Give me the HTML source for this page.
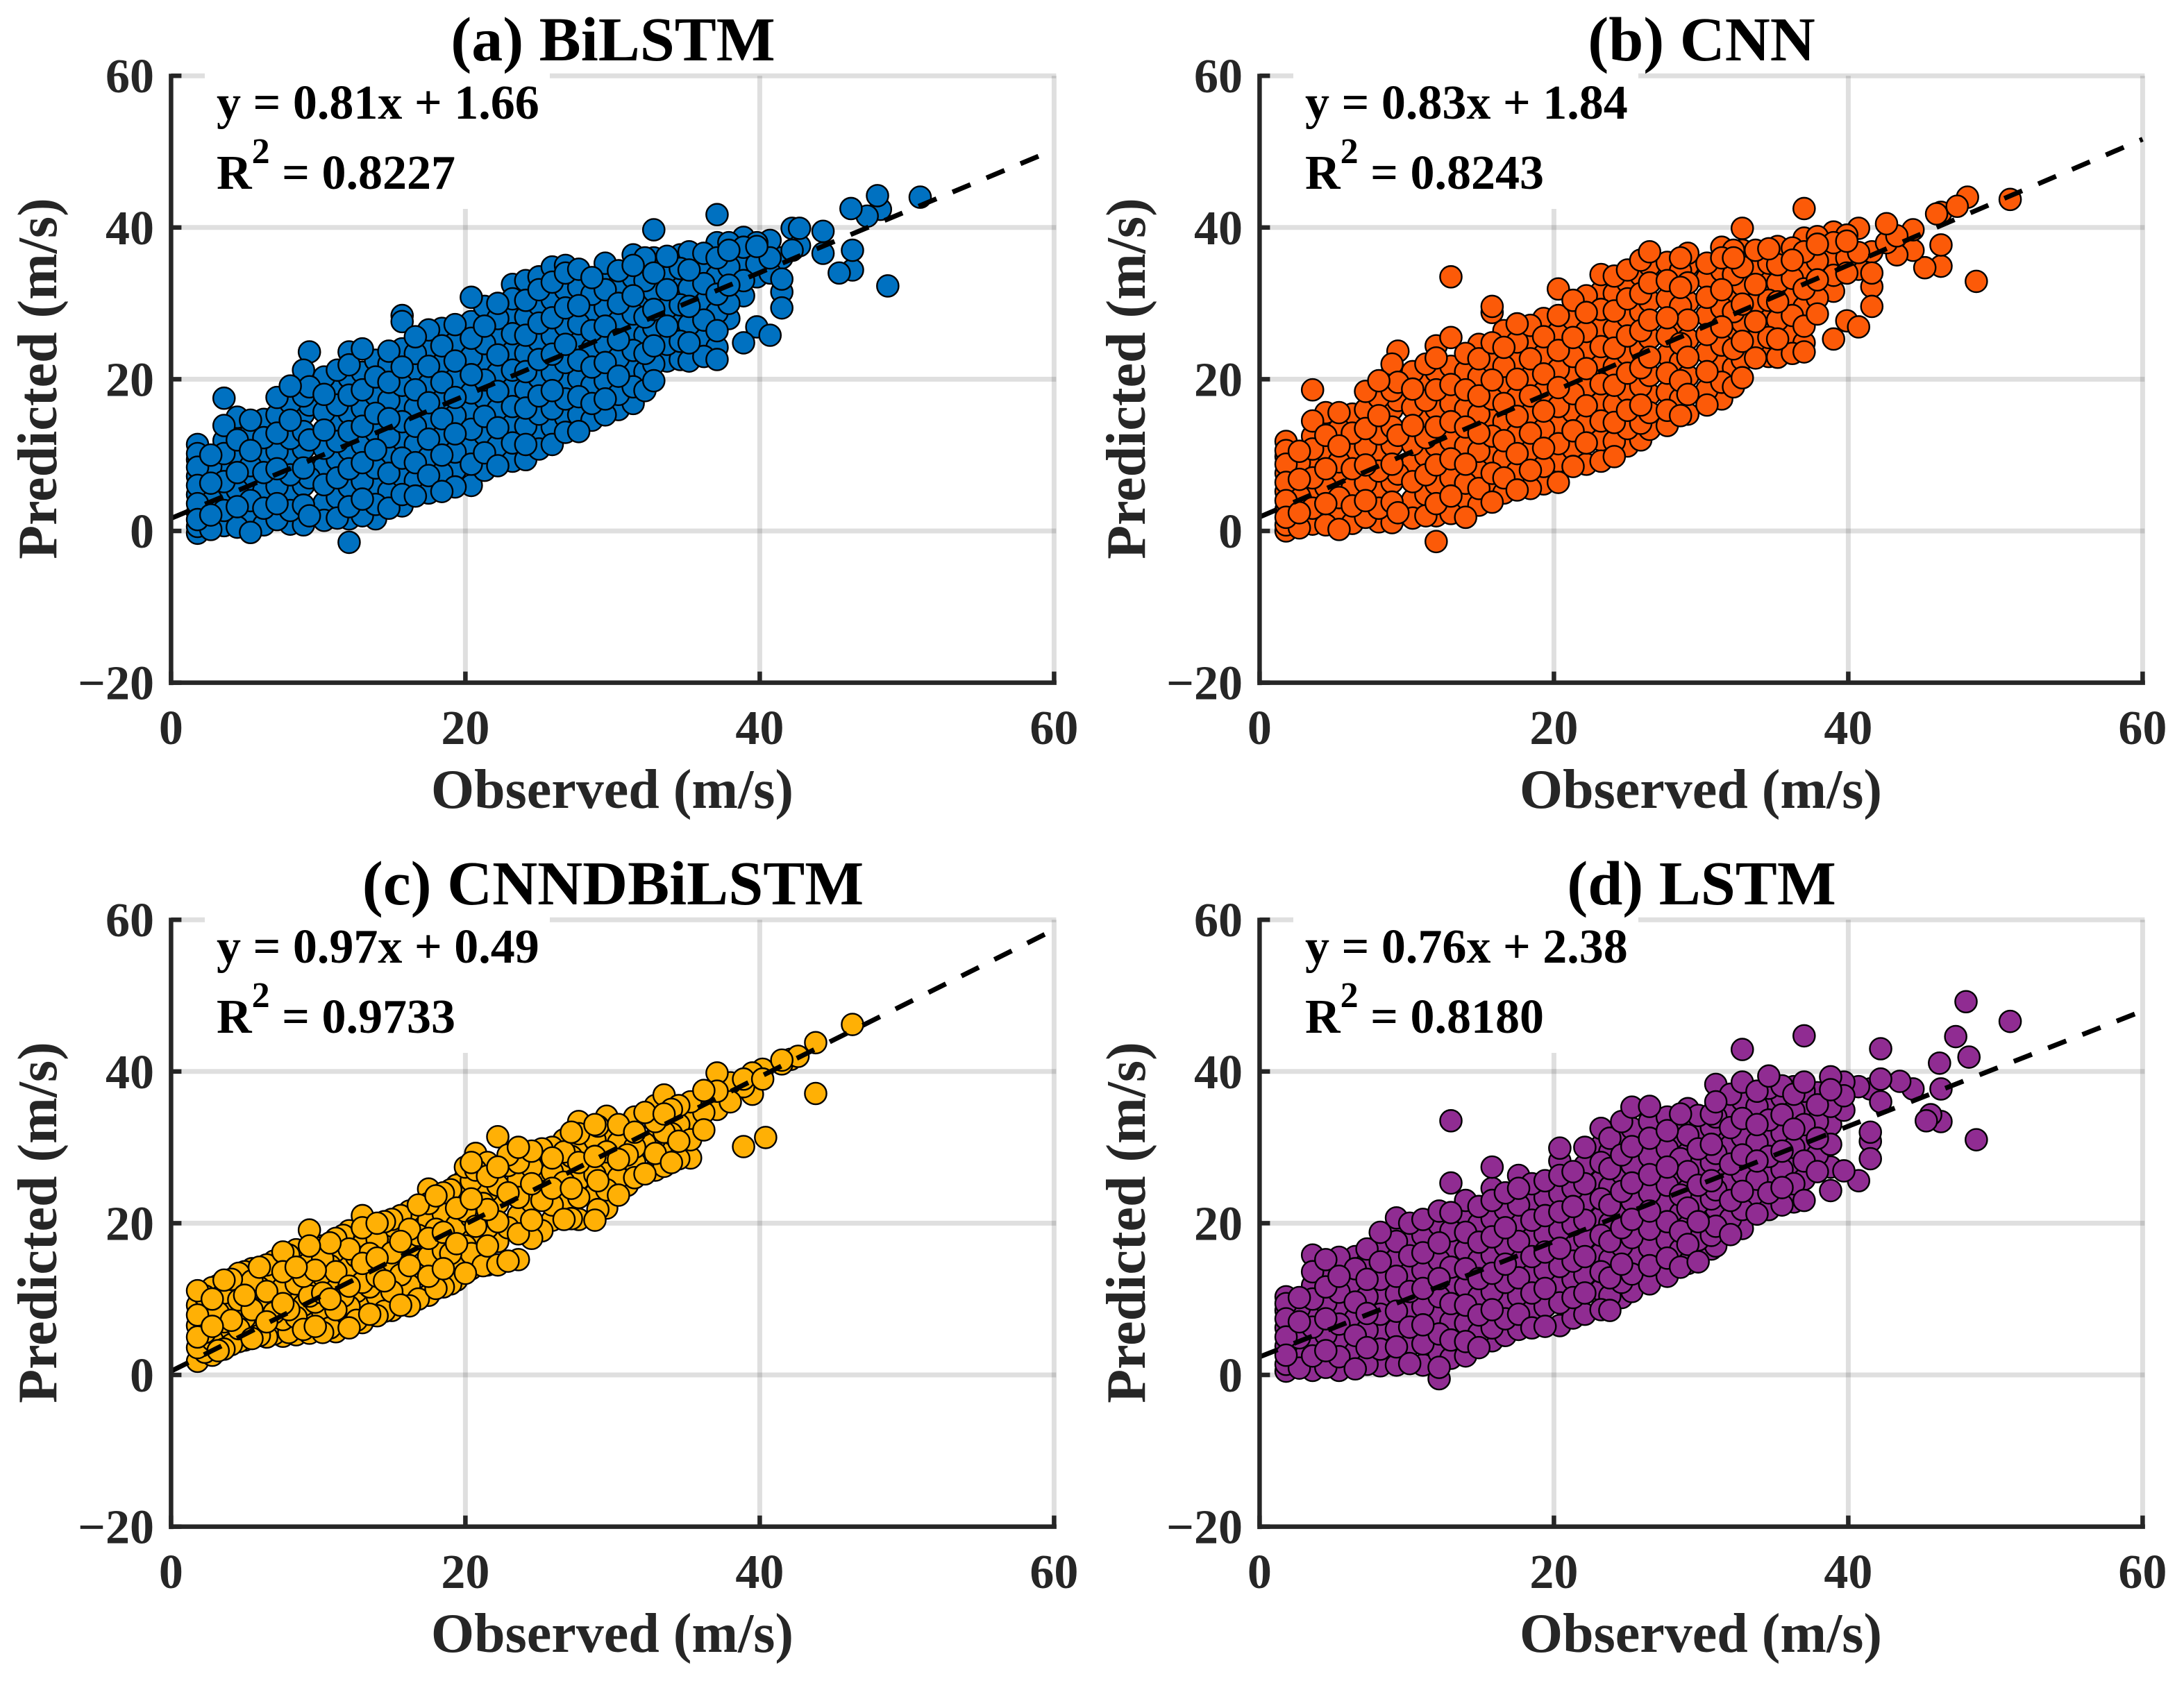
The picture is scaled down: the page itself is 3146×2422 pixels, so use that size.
<!DOCTYPE html>
<html lang="en">
<head>
<meta charset="utf-8">
<title>Observed vs predicted wind speed</title>
<style>
html,body{margin:0;padding:0;background:#fff}
svg{display:block}
text{font-family:"Liberation Serif",serif;font-weight:bold}
.title{font-size:90px;fill:#000;text-anchor:middle}
.axis-title{font-size:80px;fill:#262626;text-anchor:middle}
.note{font-size:70px;fill:#000}
.tick{font-size:70px;fill:#262626}
</style>
</head>
<body>
<svg id="chart" xmlns="http://www.w3.org/2000/svg" width="3146" height="2422" viewBox="0 0 3146 2422">
<rect width="3146" height="2422" fill="#fff"/>

<g id="panel-a" transform="translate(0,0)">
<g class="plot"></g>
<text class="title" x="883" y="87">(a) BiLSTM</text>
<text class="axis-title" x="882" y="1164">Observed (m/s)</text>
<text class="axis-title" transform="translate(81,545.5) rotate(-90)">Predicted (m/s)</text>
<text class="note" x="312" y="171">y = 0.81x + 1.66</text>
<text class="note" x="312" y="272">R<tspan font-size="52" dy="-37">2</tspan><tspan dy="37"> = 0.8227</tspan></text>
</g>

<g id="panel-b" transform="translate(1568,0)">
<g class="plot"></g>
<text class="title" x="883" y="87">(b) CNN</text>
<text class="axis-title" x="882" y="1164">Observed (m/s)</text>
<text class="axis-title" transform="translate(81,545.5) rotate(-90)">Predicted (m/s)</text>
<text class="note" x="312" y="171">y = 0.83x + 1.84</text>
<text class="note" x="312" y="272">R<tspan font-size="52" dy="-37">2</tspan><tspan dy="37"> = 0.8243</tspan></text>
</g>

<g id="panel-c" transform="translate(0,1216)">
<g class="plot"></g>
<text class="title" x="883" y="87">(c) CNNDBiLSTM</text>
<text class="axis-title" x="882" y="1164">Observed (m/s)</text>
<text class="axis-title" transform="translate(81,545.5) rotate(-90)">Predicted (m/s)</text>
<text class="note" x="312" y="171">y = 0.97x + 0.49</text>
<text class="note" x="312" y="272">R<tspan font-size="52" dy="-37">2</tspan><tspan dy="37"> = 0.9733</tspan></text>
</g>

<g id="panel-d" transform="translate(1568,1216)">
<g class="plot"></g>
<text class="title" x="883" y="87">(d) LSTM</text>
<text class="axis-title" x="882" y="1164">Observed (m/s)</text>
<text class="axis-title" transform="translate(81,545.5) rotate(-90)">Predicted (m/s)</text>
<text class="note" x="312" y="171">y = 0.76x + 2.38</text>
<text class="note" x="312" y="272">R<tspan font-size="52" dy="-37">2</tspan><tspan dy="37"> = 0.8180</tspan></text>
</g>
</svg>

<script>
// Tick labels
const xTicks = [0, 20, 40, 60];
const yTicks = [-20, 0, 20, 40, 60];
// Fit-line parameters per panel
const fitSlopes = [0.81, 0.83, 0.97, 0.76];
const fitIntercepts = [1.66, 1.84, 0.49, 2.38];
// Observed value followed by the predicted values read at that observed value
const seriesBiLSTM = [
[1.8,[-.3,.6,1.5,2.4,3.6,4.8,6,7.2,8.4,9.4,10.2,11.4]],
[2.7,[.2,2.1,4.2,6.3,8.5,10]],
[3.6,[.7,2.7,4.6,6.5,8.4,10.2,11.9,13.9,17.5]],
[4.5,[.5,3.2,5.4,7.7,10,12,15]],
[5.4,[-.2,1.7,4,6.3,8.6,10.6,12.8,14.6]],
[6.3,[.8,3,5.3,7.7,10.1,12.3,14.7]],
[7.2,[1.5,3.6,5.9,8.2,10.5,12.9,15.3,17.6]],
[8.1,[.9,2.7,5,7.4,9.8,12.2,14.6,16.9,19.1]],
[9,[.8,3.4,6,8.3,10.8,13.1,15.4,17.8,20,21.2]],
[9.4,[2,7,12,16.6,19,23.6]],
[10.4,[1.4,3.7,6.1,8.5,10.9,13.3,15.7,18,20.3]],
[11.3,[1.7,4.4,7,9.4,11.8,14.2,16.6,19,21.2]],
[12.1,[-1.5,1.6,3.2,5.8,8.2,10.7,13.1,15.5,17.9,20.2,21.9,23.6]],
[13,[2,4.2,6.6,9,11.4,13.8,16.2,18.6,20.9,24]],
[13.9,[1.6,3.5,5.9,8.3,10.7,13.1,15.5,17.9,20.3,22.5]],
[14.8,[3,5.2,7.6,10,12.4,14.8,17.2,19.6,22,23.7]],
[15.7,[3.3,4.8,7.2,9.6,12,14.4,16.8,19.2,21.6,24,27.6,28.4]],
[16.6,[4.6,6.6,9,11.4,13.8,16.2,18.6,21,23.4,25.6]],
[17.5,[5,7.3,9.7,12.1,14.5,16.9,19.3,21.7,24.1,26.5]],
[18.4,[5.2,7.6,10,12.4,14.8,17.2,19.6,22,24.4,26.7]],
[19.3,[5.8,8,10.4,12.8,15.2,17.6,20,22.4,24.8,27.2]],
[20.4,[6,8.8,11,13.4,15.8,18.2,20.6,23,25.4,27.6,30.8]],
[21.3,[8,10.3,12.7,15.1,17.5,19.9,22.3,24.7,27,29.6]],
[22.2,[8.6,11.2,13.6,16,18.4,20.8,23.2,25.6,28,30]],
[23.2,[9.2,11.6,14,16.4,18.8,21.2,23.6,26,28.4,30.6,32.5]],
[24.1,[9.4,11.4,13.8,16.2,18.6,21,23.4,25.8,28.2,30.4,33]],
[25,[10.8,13,15.4,17.8,20.2,22.6,25,27.4,29.8,31.8,33.5]],
[25.9,[11.4,13.7,16.1,18.5,20.9,23.3,25.7,28.1,30.5,32.8,34.8]],
[26.8,[13,15,17.4,19.8,22.2,24.6,27,29.4,31.8,34,35]],
[27.7,[13.1,15.3,17.7,20.1,22.5,24.9,27.3,29.7,32.1,34.5]],
[28.6,[14.6,16.8,19.2,21.6,24,26.4,28.8,31.2,33.4]],
[29.5,[15.3,17.4,19.8,22.2,24.6,27,29.4,31.8,33.6,35.3]],
[30.4,[16,18,20.4,22.8,25.2,27.6,30,32.4,34.3]],
[31.4,[16.8,19,21.4,23.8,26.2,28.6,31,33.4,35,36.4]],
[32.2,[18.5,21,23.4,25.8,28.2,30.6,33,35.2,36]],
[32.8,[19.8,22,24.4,26.8,29.2,31.6,34,36,39.7]],
[33.7,[22.4,24.6,27,29.4,31.8,34.2,36.2]],
[34.6,[22.6,25,27.4,29.8,32.2,34.6,36.4]],
[35.2,[22.4,24.8,27.2,29.6,32,34.4,36.8]],
[36.2,[23,25.4,27.8,30.2,32.6,35,36.6]],
[37.1,[22.6,24.2,26.4,28.8,31.2,33.6,36,38,41.7]],
[37.9,[28,30,32.4,34.8,37,38]],
[38.9,[24.8,31,33,35.5,37.4,38.7]],
[39.8,[26.9,33.5,35.2,37.5,38]],
[40.7,[25.8,34,36,38.3]],
[41.5,[29.4,31.5,33.2,36]],
[42.2,[37,39.9]],
[42.7,[37.6,39.9]],
[44.3,[36.6,39.5]],
[45.4,[34]],[46.2,[42.5]],[46.3,[34.4,37]],[47.3,[41.5]],[48,[44.2]],[48.2,[42.4]],[48.7,[32.3]],[50.9,[44]]
];
const seriesCNN = [
[1.8,[0,.8,1.8,2.8,4,5.2,6.4,7.6,8.8,9.8,10.6,11.8]],
[2.7,[.4,2.4,4.6,6.8,9,10.5]],
[3.6,[.9,3,5,7,9,10.8,12.5,14.5,18.6]],
[4.5,[.8,3.6,5.8,8.2,10.5,12.6,15.6]],
[5.4,[.2,2,4.4,6.8,9.1,11.2,13.4,15.6]],
[6.3,[1,3.3,5.7,8.2,10.6,12.9,15.4]],
[7.2,[1.8,4,6.4,8.7,11.1,13.5,16,18.4]],
[8.1,[1.2,3,5.4,7.9,10.3,12.8,15.2,17.6,19.8]],
[9,[1.1,3.8,6.4,8.8,11.3,13.7,16,18.5,20.8,22]],
[9.4,[2.4,7.5,12.6,17.2,19.6,23.7]],
[10.4,[1.7,4.1,6.5,9,11.4,13.9,16.3,18.7,21]],
[11.3,[2,4.8,7.4,9.9,12.3,14.8,17.2,19.7,22]],
[12,[-1.4,2,3.6,6.2,8.7,11.2,13.7,16.1,18.6,21,22.8,24.4]],
[13,[2.3,4.6,7,9.5,11.9,14.4,16.8,19.3,21.7,25.5,33.5]],
[14,[1.8,3.9,6.3,8.8,11.2,13.7,16.1,18.6,21,23.4]],
[14.9,[3.4,5.6,8,10.5,12.9,15.4,17.8,20.3,22.7,24.6]],
[15.8,[3.8,5.2,7.6,10.1,12.5,15,17.4,19.9,22.3,24.8,28.8,29.6]],
[16.6,[5,7,9.5,11.9,14.4,16.8,19.3,21.7,24.2,26.4]],
[17.5,[5.4,7.8,10.2,12.7,15.1,17.6,20,22.5,24.9,27.3]],
[18.4,[5.6,8,10.5,12.9,15.4,17.8,20.3,22.7,25.2,27.1]],
[19.3,[6.2,8.5,10.9,13.4,15.8,18.3,20.7,23.2,25.6,28]],
[20.3,[6.4,9.2,11.5,14,16.4,18.9,21.3,23.8,26.2,28.4,31.9]],
[21.3,[8.5,10.8,13.2,15.7,18.1,20.6,23,25.5,27.9,30.4]],
[22.2,[8.8,11.6,14.1,16.5,19,21.4,23.9,26.3,28.8,31]],
[23.2,[9.2,12,14.5,16.9,19.4,21.8,24.3,26.7,29.2,31.5,33.8]],
[24.1,[9.8,11.8,14.3,16.7,19.2,21.6,24.1,26.6,29,31.3,33.6]],
[25,[11.2,13.5,15.9,18.4,20.8,23.3,25.7,28.2,30.6,32.8,34.4]],
[25.9,[12,14.2,16.6,19.1,21.5,24,26.4,28.9,31.3,33.7,35.7]],
[26.5,[13.4,15.6,18,20.5,22.9,25.4,27.8,30.3,32.7,35,36.8]],
[27.7,[13.9,15.9,18.3,20.8,23.2,25.7,28.1,30.6,33,35.4]],
[28.6,[15.2,17.4,19.8,22.3,24.7,27.2,29.6,32.1,34.3,36]],
[29.1,[15.4,18,20.4,22.9,25.3,27.8,30.2,32.7,35,36.6]],
[30.4,[16.6,18.6,21,23.5,25.9,28.4,30.8,33.3,35.3]],
[31.4,[17.4,19.6,22,24.5,26.9,29.4,31.8,34.3,36,37.4]],
[32.2,[19,21.5,24,26.4,28.9,31.3,33.8,36,37]],
[32.8,[20.2,22.6,25,27.5,29.9,32.4,34.8,37,39.9]],
[33.7,[22.8,25.1,27.6,30,32.5,34.9,37]],
[34.6,[23,25.5,28,30.4,32.9,35.3,37.2]],
[35.2,[22.9,25.3,27.8,30.2,32.7,35.1,37.5]],
[36.2,[23.4,25.9,28.4,30.8,33.3,35.7,37.3]],
[37,[23.6,24.8,27,29.5,31.9,34.4,36.8,38.6,42.5]],
[37.9,[28.6,30.7,33.1,35.6,37.8,38.8]],
[39,[25.3,31.6,33.7,36.2,38,39.4]],
[39.9,[27.7,34,36,38.2,39]],
[40.7,[26.9,34.5,36.7,39.9]],
[41.6,[29.6,32.2,34,36.8]],
[42.6,[38,40.5]],
[43.3,[36.4,38.9]],
[44.4,[37,39.7]],
[45.2,[34.7]],[46,[41.8]],[46.3,[34.9,37.7,42]],[47.4,[42.8]],[48.1,[44]],[48.7,[32.9]],[51,[43.7]]
];
const seriesCNNDBiLSTM = [
[1.8,[1.8,3.6,5,6.5,7.9,9.2,11.1]],
[2.3,[3,5.6,8.8,10.4]],
[2.8,[2.6,4.6,6.4,8.4,10,11.5]],
[3.2,[3.2,6,8.2,11.8]],
[3.6,[3.4,5.2,7,9,10.8,12.5]],
[4.1,[4,7.2,10,12.6]],
[4.6,[4.4,6.1,8,9.9,11.8,13.4]],
[5,[4.6,7.5,10.5,13.6]],
[5.5,[4.8,6.6,8.6,10.6,12.4,14]],
[6,[5.2,8,11.5,14.2]],
[6.5,[5,7,9,11,12.9,14.5]],
[7,[5.4,8.2,12,15]],
[7.6,[5.1,7.3,9.4,11.5,13.6,15.2,16.2]],
[8,[5.6,8.6,12.5,15.8]],
[8.5,[5.3,7.6,9.9,12,14.2,16.5]],
[9,[6,9.2,13,16.4]],
[9.4,[5.5,8,10.4,12.6,14.8,17,19.1]],
[9.8,[6.4,9.6,13.8,16.8]],
[10.3,[5.6,8.3,10.8,13.1,15.3,17]],
[10.8,[6.2,10,14.4,17.4]],
[11.2,[5.7,8.6,11.2,13.6,15.9,18]],
[11.7,[6.6,10.4,15,18.4]],
[12.1,[6.2,9,11.7,14.2,16.6,19]],
[12.6,[7.2,11,15.6,18.8]],
[13,[6.9,9.6,12.2,14.7,17.2,19.4,21]],
[13.5,[8,11.6,16,19.6]],
[14,[7.8,10.4,13,15.4,17.9,20]],
[14.5,[8.4,12.4,17,20.2]],
[15,[8.5,11,13.6,16.1,18.5,20.5]],
[15.6,[9.2,13.2,17.6,21]],
[16.2,[9.1,11.8,14.4,16.9,19.2,21.6]],
[16.8,[10,14,18.4,22.4]],
[17.5,[10.5,13,15.6,18,20.4,22.6,24.5]],
[18,[11.4,15,19.2,23.6]],
[18.5,[11.6,14,16.4,18.8,21.2,24]],
[19,[12,16,20.4,24.4]],
[19.4,[12.5,14.9,17.3,19.7,22,25]],
[20,[13.4,17,21.6,26,27.4]],
[20.4,[14,16,18.4,20.8,23.2,25.6,28]],
[20.7,[15,19.6,24.4,27,29.2]],
[21.2,[14.4,18,22.6,27]],
[21.5,[14.5,17,19.4,21.8,24.2,26.2,28]],
[22.2,[14.5,17.6,20.2,22.6,25,27.4,31.4]],
[22.9,[15,19.4,24,27.6,29]],
[23.6,[15.2,18.6,21,23.4,25.8,28,30]],
[24.5,[18,20.4,22.8,25.2,27.4,29.5]],
[25.2,[19,23,27,29.8]],
[25.9,[20.4,22.4,24.6,26.8,28.6,30]],
[26.7,[20.5,23,25.4,27.6,29.4,31]],
[27.2,[20.6,24.6,28.8,32]],
[27.7,[20.5,23.4,25.8,28,30,31.8,33.4]],
[28.8,[20.4,23.8,26.4,28.8,31,33]],
[29,[21.8,25.6,30,32.8]],
[29.6,[22,24.4,27,29.4,31.6,34.1]],
[30.4,[23.7,26,28.4,30.6,33]],
[31,[25,29,33]],
[31.5,[26,28,30,32,34]],
[32.2,[26.5,30.5,34.6]],
[32.9,[27,29.2,31.2,33.4,35.5]],
[33.5,[27.5,30,32,34.4,36.9]],
[34,[28,31.8,35]],
[34.5,[28.5,30.8,33,35.5]],
[35.3,[28.6,31,33.6,36]],
[36.2,[32.3,34.6,37.5]],
[37.1,[35,37.4,39.8]],
[38,[36,38.5]],
[38.9,[30.1,38,39]],
[39.5,[37,39.8]],
[40.2,[39,40.3]],
[40.4,[31.3]],
[41.5,[41,41.5]],[42.1,[41.6]],[42.6,[42]],[43.8,[37.1,43.8]],[46.3,[46.2]]
];
const seriesLSTM = [
[1.8,[.5,1.4,2.6,3.8,5,6.2,7.4,8.5,9.4,10.3]],
[2.7,[.9,2.8,4.9,7,8.8,10.2]],
[3.6,[.6,2.5,4.4,6.3,8.2,10,11.8,13.6,15.8]],
[4.5,[1,3.2,5.3,7.4,9.5,11.6,13.6,15.2]],
[5.4,[.6,2.4,4.6,6.7,8.8,10.9,13,15.5]],
[6.5,[.8,3,5.2,7.4,9.6,11.8,14,15.6]],
[7.3,[1.4,3.6,5.9,8.1,10.3,12.6,14.8,16.6]],
[8.2,[1.2,3.4,5.7,8,10.3,12.6,14.9,17.2,18.8]],
[9.3,[1.3,3.7,6,8.4,10.7,13,15.3,17.6,19.6,20.7]],
[10.2,[1.5,3.9,6.3,8.7,11,13.4,15.7,18,20]],
[11.1,[1.3,4.1,6.6,9,11.4,13.8,16.1,18.4,20.5]],
[12.2,[-.5,1,2.9,5.4,7.9,10.3,12.7,15.1,17.4,19.8,21.6]],
[13,[2.2,4.6,7,9.4,11.8,14.2,16.6,19,21.4,25.3,33.5]],
[14,[2.5,4.4,6.8,9.2,11.6,14,16.4,18.8,21.2,23]],
[14.9,[3.6,5.5,7.9,10.3,12.7,15.1,17.5,19.9,22.2]],
[15.8,[4.5,6.2,8.6,11,13.4,15.8,18.2,20.6,23,24.6,27.4]],
[16.7,[5.2,7.4,9.8,12.2,14.6,17,19.4,21.8,24]],
[17.6,[6,8,10.4,12.8,15.2,17.6,20,22.4,24.6,26.3]],
[18.5,[6.2,8.4,10.8,13.2,15.6,18,20.4,22.8,25.2]],
[19.4,[6.4,9,11.4,13.8,16.2,18.6,21,23.4,25.6]],
[20.4,[6.5,9.5,11.9,14.3,16.7,19.1,21.5,23.9,26.3,28.2,29.9]],
[21.3,[7.5,10.2,12.6,15,17.4,19.8,22.2,24.6,26.8]],
[22.1,[8,10.8,13.2,15.6,18,20.4,22.8,25.2,27.6,30]],
[23.2,[8.6,11.2,13.6,16,18.4,20.8,23.2,25.6,28,30.2,32.5]],
[23.8,[8.5,10.4,12.8,15.2,17.6,20,22.4,24.8,27.2,29.4,31.2]],
[24.6,[10.2,12.2,14.6,17,19.4,21.8,24.2,26.6,29,31.4,33.4]],
[25.3,[11,13.3,15.7,18.1,20.5,22.9,25.3,27.7,30.1,32.5,35.3]],
[26.5,[12,14.4,16.8,19.2,21.6,24,26.4,28.8,31.2,33.4,35.4]],
[27.7,[13,15.4,17.8,20.2,22.6,25,27.4,29.8,32.2,34]],
[28.6,[14.2,16.5,18.9,21.3,23.7,26.1,28.5,30.9,33,34.4]],
[29.1,[14.7,17.2,19.6,22,24.4,26.8,29.2,31.6,33.6,35.1]],
[29.8,[14.9,17.8,20.2,22.6,25,27.4,29.8,32,34.2]],
[30.7,[16.6,18.4,20.8,23.2,25.6,28,30.4,32.6,34.4]],
[31,[17,19.6,22,24.4,26.8,29.2,31.6,34,36,38.3]],
[32,[18.5,20.6,23,25.4,27.8,30.2,32.6,35,37]],
[32.8,[19.3,21.8,24.2,26.6,29,31.4,33.8,36.2,38.6,42.9]],
[33.8,[21.2,23.4,25.8,28.2,30.6,33,35.4,37.4]],
[34.6,[21.8,24,26.4,28.8,31.2,33.6,36,37.8,39.4]],
[35.5,[22.4,24.7,27.1,29.5,31.9,34.3,36.6,38.1]],
[36.3,[22.8,25.2,27.6,30,32.4,34.8,37,38]],
[37,[23,25.8,28.2,30.6,33,35.2,37.4,38.6,44.7]],
[37.9,[26.8,29,31.2,33.4,35.6,37.2]],
[38.8,[24.3,27.4,30.4,33,35.4,37.6,39.3]],
[39.7,[26.9,34.9,36.8,38.6]],
[40.7,[25.6,38]],
[41.5,[28.5,30.8,32,37.7]],
[42.2,[36,39,43]],
[43.5,[38.7]],[44.4,[37.7]],[45.3,[33.5]],[45.6,[34.3]],[46.2,[41.1]],[46.3,[33.4,37.7]],[47.3,[44.6]],[48,[49.2]],[48.2,[41.9]],[48.7,[31]],[51,[46.6]]
];
const allSeries = [seriesBiLSTM, seriesCNN, seriesCNNDBiLSTM, seriesLSTM];
const panelIds = ['panel-a', 'panel-b', 'panel-c', 'panel-d'];
const panelColors = ['#0071C1', '#FC5A08', '#FFB005', '#902C92'];

const NS = 'http://www.w3.org/2000/svg';
const xAxis = v => 246.4 + v * 21.2;
const yAxis = v => 765 - v * 10.93;

function mk(parent, tag, attrs) {
  const el = document.createElementNS(NS, tag);
  for (const k in attrs) el.setAttribute(k, attrs[k]);
  parent.appendChild(el);
  return el;
}

panelIds.forEach(function (id, p) {
  const plot = document.querySelector('#' + id + ' .plot');
  const xMin = xTicks[0], xMax = xTicks[xTicks.length - 1];
  const yMin = yTicks[0], yMax = yTicks[yTicks.length - 1];

  // Grid lines
  xTicks.slice(1).forEach(function (t) {
    const el = mk(plot, 'line', {x1: xAxis(t), x2: xAxis(t), y1: yAxis(yMin), y2: yAxis(yMax), stroke: '#000', 'stroke-opacity': 0.125, 'stroke-width': 7});
    
    
  });
  yTicks.slice(1).forEach(function (t) {
    const el = mk(plot, 'line', {x1: xAxis(xMin), x2: xAxis(xMax) + 3, y1: yAxis(t), y2: yAxis(t), stroke: '#000', 'stroke-opacity': 0.125, 'stroke-width': 7});
    
    
  });

  // White background behind the annotation
  const box = mk(plot, 'rect', {x: 295, y: 100, width: 497, height: 201, fill: '#fff'});
  
  

  // Scatter markers, drawn in a stride order so overlaps interleave
  const pts = [];
  allSeries[p].forEach(function (col) {
    col[1].forEach(function (v) { pts.push([col[0], v]); });
  });
  const order = pts.map(function (_, i) { return i; }).sort(function (a, b) {
    return ((a * 97) % 211) - ((b * 97) % 211) || a - b;
  });
  const pointsLayer = mk(plot, 'g', {});
  
  
  order.forEach(function (i) {
    const c = mk(pointsLayer, 'circle', {cx: xAxis(pts[i][0]), cy: yAxis(pts[i][1]), r: 15.6, fill: panelColors[p], stroke: '#000', 'stroke-width': 2.4});
    
    
  });

  // Fit line
  const fit = mk(plot, 'line', {x1: xAxis(xMin), y1: yAxis(fitSlopes[p] * xMin + fitIntercepts[p]), x2: xAxis(xMax), y2: yAxis(fitSlopes[p] * xMax + fitIntercepts[p]), stroke: '#000', 'stroke-width': 7, 'stroke-dasharray': '28 25.04'});
  
  

  // Axes
  const yLine = mk(plot, 'line', {x1: xAxis(xMin), x2: xAxis(xMin), y1: yAxis(yMin) + 3.5, y2: yAxis(yMax) - 3, stroke: '#262626', 'stroke-width': 6.5});
  
  
  const xLine = mk(plot, 'line', {x1: xAxis(xMin) - 3, x2: xAxis(xMax) + 3.5, y1: yAxis(yMin), y2: yAxis(yMin), stroke: '#262626', 'stroke-width': 6.5});
  
  

  // Ticks and tick labels
  xTicks.forEach(function (t) {
    const tk = mk(plot, 'line', {x1: xAxis(t), x2: xAxis(t), y1: yAxis(yMin), y2: yAxis(yMin) - 16, stroke: '#262626', 'stroke-width': 6.5});
    
    
    const lb = mk(plot, 'text', {class: 'tick', x: xAxis(t), y: 1072, 'text-anchor': 'middle'});
    
    
    lb.textContent = String(t);
  });
  yTicks.forEach(function (t) {
    const tk = mk(plot, 'line', {x1: xAxis(xMin), x2: xAxis(xMin) + 15, y1: yAxis(t), y2: yAxis(t), stroke: '#262626', 'stroke-width': 6.5});
    
    
    const lb = mk(plot, 'text', {class: 'tick', x: 222, y: yAxis(t) + 24, 'text-anchor': 'end'});
    
    
    lb.textContent = t < 0 ? '\u2212' + Math.abs(t) : String(t);
  });
});
</script>
</body>
</html>
